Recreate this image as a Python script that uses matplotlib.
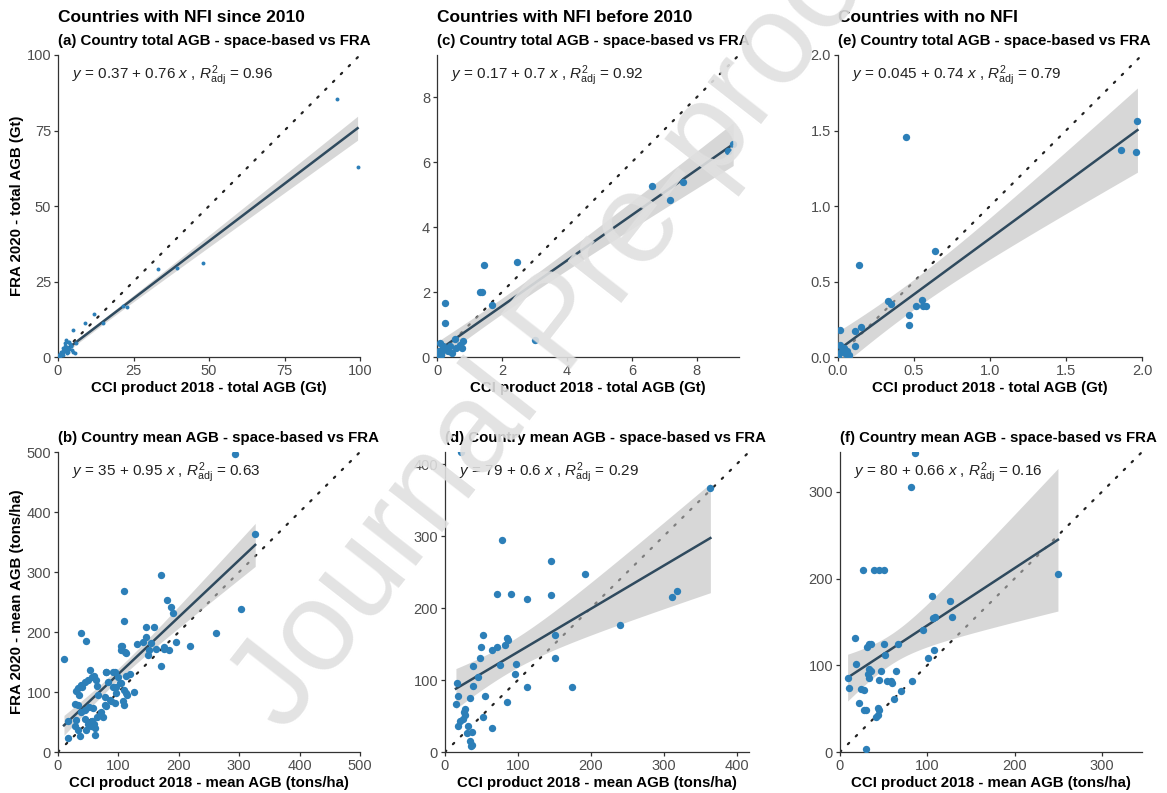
import matplotlib.pyplot as plt
import numpy as np

plt.rcParams['font.family'] = ['Liberation Sans', 'DejaVu Sans']
plt.rcParams['mathtext.fontset'] = 'custom'
plt.rcParams['mathtext.rm'] = 'Liberation Sans'
plt.rcParams['mathtext.it'] = 'Liberation Sans:italic'

# (a) countries with NFI since 2010 - total AGB (Gt)
a_cci = [92.3, 99.2, 48.1, 39.3, 33.2, 22.7, 21.5, 12.0, 15.0, 8.9, 4.9, 3.4, 2.3, 3.1,
         4.2, 1.8, 3.4, 4.5, 5.1, 2.9, 1.5, 0.7, 5.6, 0.3, 1.0, 2.0, 2.6, 3.8, 0.5, 1.2,
         6.0, 0.2, 0.4, 0.8, 1.1, 1.6, 2.2, 2.7, 3.6, 4.0, 0.1, 0.6, 1.3, 2.4, 3.2,
         0.3, 0.9, 1.7, 2.1, 2.8, 3.3, 4.4, 0.5, 1.4, 2.5, 0.2, 0.7]
a_fra = [85.4, 63.0, 31.2, 29.6, 29.0, 16.7, 17.0, 14.2, 11.2, 11.2, 8.9, 5.1, 4.5, 3.4,
         3.6, 2.9, 1.8, 2.3, 1.8, 1.2, 0.7, 0.3, 1.2, 0.1, 1.5, 2.5, 5.5, 5.0, 0.8, 1.8,
         4.8, 0.3, 0.5, 0.9, 1.0, 1.9, 2.0, 3.0, 2.8, 4.2, 0.1, 0.4, 1.4, 3.6, 2.6,
         0.4, 0.8, 1.6, 1.9, 2.4, 2.9, 3.8, 0.6, 1.2, 2.2, 0.2, 0.6]

# (c) countries with NFI before 2010 - total AGB (Gt)
c_cci = [8.95, 9.12, 6.61, 7.16, 7.59, 2.45, 1.45, 1.32, 1.40, 1.68, 0.25, 0.25, 3.02,
         0.09, 0.19, 0.15, 0.35, 0.45, 0.60, 0.71, 0.76, 0.81, 0.09, 0.02, 0.30, 0.55,
         0.05, 0.12, 0.40]
c_fra = [6.33, 6.55, 5.27, 4.84, 5.40, 2.92, 2.84, 2.01, 2.01, 1.61, 1.66, 1.05, 0.53,
         0.43, 0.33, 0.17, 0.17, 0.12, 0.28, 0.38, 0.28, 0.48, 0.12, 0.02, 0.25, 0.55,
         0.20, 0.05, 0.35]

# (e) countries with no NFI - total AGB (Gt)
e_cci = [1.97, 1.86, 1.96, 0.45, 0.64, 0.14, 0.33, 0.55, 0.51, 0.56, 0.58, 0.47, 0.47,
         0.15, 0.11, 0.01, 0.11, 0.01, 0.03, 0.05, 0.07, 0.02, 0.04, 0.00, 0.06, 0.35]
e_fra = [1.56, 1.37, 1.36, 1.46, 0.70, 0.61, 0.37, 0.38, 0.34, 0.34, 0.34, 0.28, 0.21,
         0.20, 0.17, 0.18, 0.07, 0.08, 0.05, 0.02, 0.01, 0.03, 0.06, 0.00, 0.04, 0.35]

# (b) countries with NFI since 2010 - mean AGB (tons/ha)
b_cci = [293, 326.5, 303, 261.6, 218.6, 170.7, 180.6, 187, 190, 195.5, 176, 170.7, 159.7,
         146, 146, 154, 162, 148.7, 141.5, 130.5, 110, 110, 112, 106, 104.6, 112, 102,
         114.5, 110, 91, 79, 96, 93.6, 80, 69, 74, 9.9, 37.5, 46.9, 52.4, 59.6, 49.6, 44,
         37.5, 33, 30.4, 34.2, 63.4, 80, 94, 104.7, 110.2, 104.7, 110, 112, 107, 96.5,
         85.4, 77, 71.7, 65, 56.2, 50, 60, 55, 47, 33, 27.6, 30.4, 38.6, 33, 44, 60.6,
         35.8, 16.5, 16.5, 52, 58, 77, 82, 90.6, 175, 183, 120, 125, 65, 57, 40, 28, 45,
         62, 88, 66, 100, 150]
b_fra = [497, 363, 238, 198, 176, 295, 253, 242, 231, 184, 171, 143.6, 209,
         208, 192, 181, 171, 162, 184, 180, 269, 219, 165, 176, 170, 126, 115,
         95, 79, 134, 134, 109, 81.5, 76, 62, 59, 154.7, 199, 185.6, 137, 127.5, 120, 117.4,
         112, 106, 101, 95, 120, 134, 134, 176.8, 167, 114.7, 103.6, 98, 84.6, 98,
         87, 78.7, 67.5, 59, 51, 47, 46, 43, 37, 37, 42.6, 53.7, 67.5, 78.7, 70, 28.8,
         26, 23, 51, 75, 73, 92, 117, 109, 175, 170, 130, 100, 110, 125, 108, 80, 55,
         40, 85, 95, 125, 170]

# (d) countries with NFI before 2010 - mean AGB (tons/ha)
d_cci = [22, 364, 77.7, 145, 192, 71.8, 90.5, 112, 145, 312, 318, 240, 52.6, 49, 65, 71,
         84.5, 86.9, 82, 151, 151, 48, 38, 75, 98, 96, 16, 45.7, 39, 18, 34, 55, 15, 27,
         26, 27, 20, 25, 18.3, 32, 29.7, 36.6, 34, 36.6, 35, 52.6, 64, 84.5, 112, 174]
d_fra = [417, 367, 295, 266, 248, 220, 220, 212, 218, 215, 224, 176, 163, 146, 142, 146.5,
         158, 156, 149, 163, 130.7, 131, 119, 121, 123, 108, 96, 104, 92, 78, 75.7, 78, 67.2, 60,
         55, 52, 43, 45.5, 35.6, 36.6, 26, 28, 14.8, 10, 7.7, 49, 33, 70, 91, 90]

# (f) countries with no NFI - mean AGB (tons/ha)
f_cci = [86, 81, 26.6, 39, 45, 50.6, 249.7, 105, 125.6, 128, 106.6, 109, 95, 17, 33.5, 31,
         35.5, 50, 66, 51.4, 107.7, 101, 18.2, 33.5, 35.4, 31.6, 33.5, 47.5, 63.9, 45, 54.4,
         58, 60, 83, 8.7, 10.6, 24, 27, 69.6, 22, 27, 29.6, 43, 45, 43, 41, 61.3, 30]
f_fra = [345, 305.7, 209.9, 210, 210, 210, 204.9, 179.8, 174, 156, 155, 156, 140.5, 131.7,
         124, 121, 125, 124, 124, 112, 118, 108.6, 102, 95.5, 93.5, 89.6, 85.5, 93.5, 93.5,
         83.6, 81.6, 81.6, 79.7, 81.6, 85.5, 74, 72.8, 72, 70, 56, 48.5, 48.5, 50.8, 48.8, 43,
         40, 61.5, 3.4]

# fit coefficients as printed on each panel: intercept, slope, adj R2
fits = {
    'a': (0.37, 0.76, '0.37', '0.76', '0.96'),
    'c': (0.17, 0.7, '0.17', '0.7', '0.92'),
    'e': (0.045, 0.74, '0.045', '0.74', '0.79'),
    'b': (35, 0.95, '35', '0.95', '0.63'),
    'd': (79, 0.6, '79', '0.6', '0.29'),
    'f': (80, 0.66, '80', '0.66', '0.16'),
}

W, H = 1167, 793
fig = plt.figure(figsize=(W / 100, H / 100), dpi=100)

point_col = '#2C7FB8'
line_col = '#2F4A5E'


def panel(rect, x, y, key, lim, ticks, fmt, msize, sub, xlab, ylab=None):
    ax = fig.add_axes(rect)
    x = np.array(x, dtype=float)
    y = np.array(y, dtype=float)
    b0, b1, s0, s1, r2 = fits[key]

    # 1:1 line
    ax.plot([0, lim], [0, lim], color='#222222', lw=1.6, ls=(0, (0.8, 4.2)),
            dash_capstyle='round', zorder=2)

    # linear fit with 95% confidence band
    n = len(x)
    res = y - (b0 + b1 * x)
    s = np.sqrt(np.sum(res ** 2) / (n - 2))
    xs = np.linspace(x.min(), x.max(), 200)
    se = s * np.sqrt(1.0 / n + (xs - x.mean()) ** 2 / np.sum((x - x.mean()) ** 2))
    yhat = b0 + b1 * xs
    ax.fill_between(xs, yhat - 1.96 * se, yhat + 1.96 * se, color='#bdbdbd', alpha=0.6,
                    lw=0, zorder=3)
    ax.plot(xs, yhat, color=line_col, lw=1.8, zorder=4)

    ax.scatter(x, y, s=msize, color=point_col, lw=0, zorder=5)

    ax.set_xlim(0, lim)
    ax.set_ylim(0, lim)
    ax.set_xticks(ticks)
    ax.set_yticks(ticks)
    ax.set_xticklabels([fmt.format(t) for t in ticks])
    ax.set_yticklabels([fmt.format(t) for t in ticks])
    for side in ['top', 'right']:
        ax.spines[side].set_visible(False)
    for side in ['left', 'bottom']:
        ax.spines[side].set_color('#333333')
        ax.spines[side].set_linewidth(0.9)
    ax.tick_params(direction='out', length=3, width=0.9, color='#333333',
                   labelcolor='#4d4d4d', labelsize=10.5, pad=2)

    eq = r'$y$ = ' + s0 + ' + ' + s1 + r' $x$ , $R^2_{\mathrm{adj}}$ = ' + r2
    ax.text(0.045, 0.93, eq, transform=ax.transAxes, fontsize=11, color='#222222',
            ha='left', va='center')

    ax.set_xlabel(xlab, fontsize=10.8, fontweight='bold', labelpad=2)
    if ylab:
        ax.set_ylabel(ylab, fontsize=10.8, fontweight='bold', labelpad=2)

    l, b, w, h = rect
    fig.text(l, b + h + 0.018, sub, fontsize=10.8, fontweight='bold', ha='left', va='center')
    return ax


top_b, top_h = 1 - 357 / H, 302 / H
bot_b, bot_h = 1 - 752 / H, 300 / H

xa = 'CCI product 2018 - total AGB (Gt)'
xm = 'CCI product 2018 - mean AGB (tons/ha)'

panel([58 / W, top_b, 302 / W, top_h], a_cci, a_fra, 'a', 100, [0, 25, 50, 75, 100], '{:g}', 8,
      '(a) Country total AGB - space-based vs FRA', xa, 'FRA 2020 - total AGB (Gt)')
panel([437 / W, top_b, 302 / W, top_h], c_cci, c_fra, 'c', 9.3, [0, 2, 4, 6, 8], '{:g}', 28,
      '(c) Country total AGB - space-based vs FRA', xa)
panel([838 / W, top_b, 304 / W, top_h], e_cci, e_fra, 'e', 2.0, [0, 0.5, 1.0, 1.5, 2.0], '{:.1f}', 28,
      '(e) Country total AGB - space-based vs FRA', xa)
panel([58 / W, bot_b, 302 / W, bot_h], b_cci, b_fra, 'b', 500, [0, 100, 200, 300, 400, 500], '{:g}', 28,
      '(b) Country mean AGB - space-based vs FRA', xm, 'FRA 2020 - mean AGB (tons/ha)')
panel([445 / W, bot_b, 304 / W, bot_h], d_cci, d_fra, 'd', 417, [0, 100, 200, 300, 400], '{:g}', 28,
      '(d) Country mean AGB - space-based vs FRA', xm)
panel([840 / W, bot_b, 302 / W, bot_h], f_cci, f_fra, 'f', 346, [0, 100, 200, 300], '{:g}', 28,
      '(f) Country mean AGB - space-based vs FRA', xm)

fig.text(58 / W, 1 - 18 / H, 'Countries with NFI since 2010', fontsize=12.5, fontweight='bold',
         ha='left', va='center')
fig.text(437 / W, 1 - 18 / H, 'Countries with NFI before 2010', fontsize=12.5, fontweight='bold',
         ha='left', va='center')
fig.text(838 / W, 1 - 18 / H, 'Countries with no NFI', fontsize=12.5, fontweight='bold',
         ha='left', va='center')

# watermark (runs off the top edge, as in the source page)
fig.text(562 / W, 1 - 325 / H, 'Journal Pre-proof', rotation=52, fontsize=92, color='#e0e0e0',
         alpha=0.9, ha='center', va='center', zorder=100)

fig.savefig('out.png', dpi=100)
